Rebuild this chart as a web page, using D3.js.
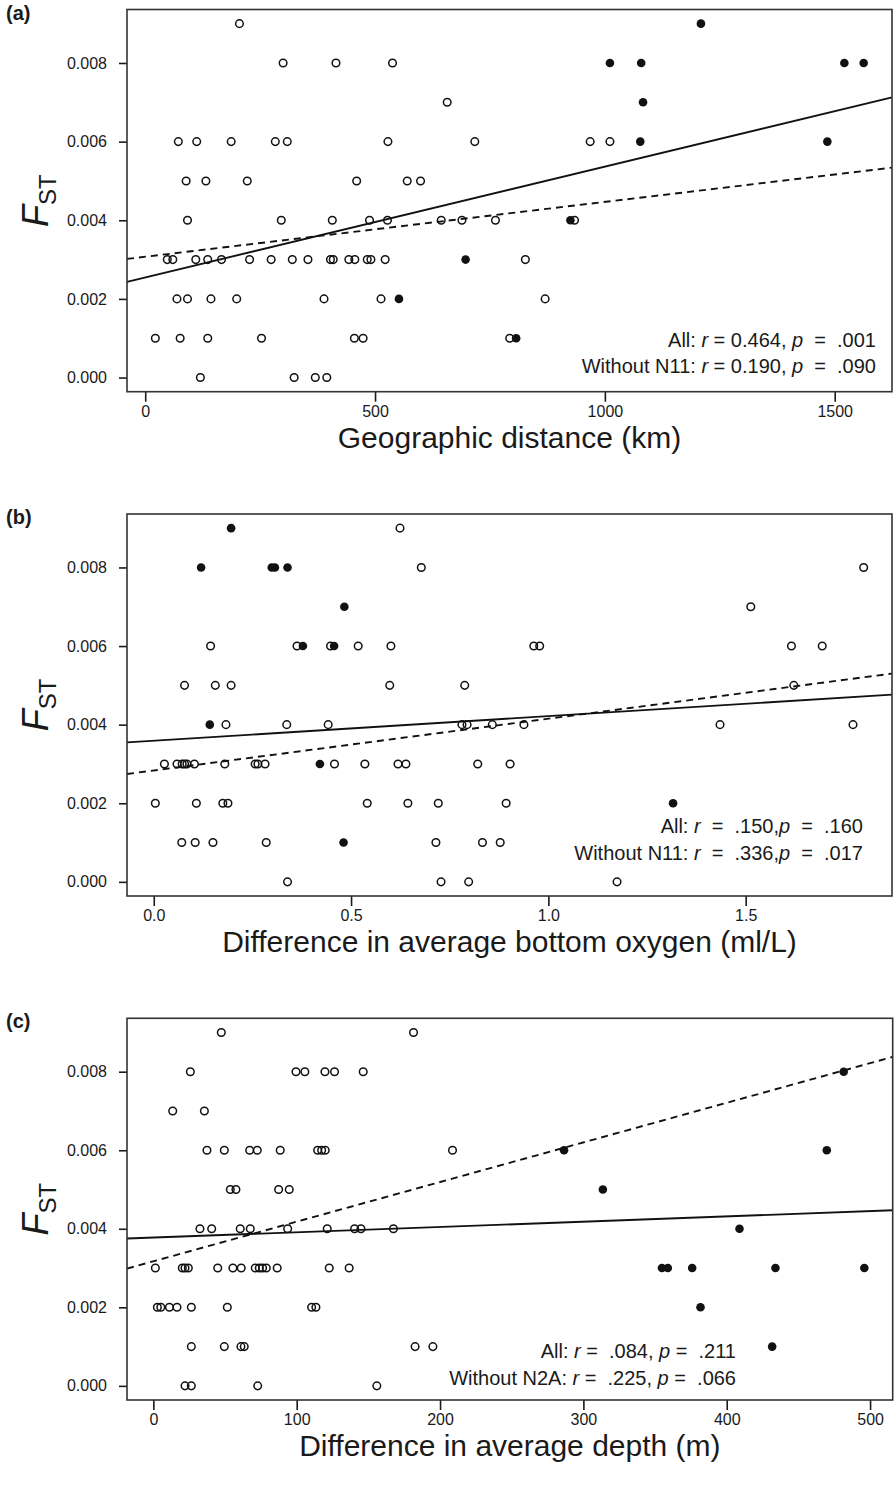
<!DOCTYPE html>
<html>
<head>
<meta charset="utf-8">
<script src="https://cdn.jsdelivr.net/npm/d3@7"></script>
<style>
body { margin: 0; background: #fff; }
svg text { font-family: "Liberation Sans", Arial, sans-serif; fill: #1a1a1a; white-space: pre; }
</style>
</head>
<body>
<svg id="chart" width="896" height="1485"></svg>
<script>
// ---- data ----
var fstTicks = [0, 0.002, 0.004, 0.006, 0.008];

// (a) geographic distance, km
var distTicks = [0, 500, 1000, 1500];
var distOpenKm = [205, 300, 415, 538, 657,
    72, 112, 187, 283, 309, 528, 717, 968, 1011,
    89, 132, 222, 460, 570, 599,
    92, 296, 407, 488, 527, 644, 689, 762, 934,
    48, 60, 110, 136, 166, 227, 274, 320, 354, 403, 409, 443, 456, 483, 491, 522, 827,
    69, 92, 143, 199, 389, 513, 870,
    22, 76, 136, 253, 455, 474, 793,
    120, 324, 370, 395];
var distOpenFst = [0.009, 0.008, 0.008, 0.008, 0.007,
    0.006, 0.006, 0.006, 0.006, 0.006, 0.006, 0.006, 0.006, 0.006,
    0.005, 0.005, 0.005, 0.005, 0.005, 0.005,
    0.004, 0.004, 0.004, 0.004, 0.004, 0.004, 0.004, 0.004, 0.004,
    0.003, 0.003, 0.003, 0.003, 0.003, 0.003, 0.003, 0.003, 0.003, 0.003, 0.003, 0.003, 0.003, 0.003, 0.003, 0.003, 0.003,
    0.002, 0.002, 0.002, 0.002, 0.002, 0.002, 0.002,
    0.001, 0.001, 0.001, 0.001, 0.001, 0.001, 0.001,
    0, 0, 0, 0];
var distFilledKm = [1209, 1011, 1079, 1521, 1563, 1083, 1077, 1484, 925, 697, 552, 807];
var distFilledFst = [0.009, 0.008, 0.008, 0.008, 0.008, 0.007, 0.006, 0.006, 0.004, 0.003, 0.002, 0.001];
var distLineAll = [0.002545, 2.82e-6];       // intercept, slope
var distLineWithout = [0.003072, 1.395e-6];

// (b) difference in bottom oxygen, ml/L
var oxyTicks = [0, 0.5, 1.0, 1.5];
var oxyOpenX = [0.624, 0.678, 1.799, 1.513,
    0.144, 0.363, 0.448, 0.518, 0.601, 0.963, 0.978, 1.616, 1.694,
    0.078, 0.156, 0.196, 0.598, 0.788, 1.622,
    0.183, 0.337, 0.442, 0.781, 0.794, 0.858, 0.938, 1.435, 1.772,
    0.027, 0.059, 0.072, 0.078, 0.084, 0.103, 0.180, 0.257, 0.264, 0.282, 0.458, 0.535, 0.619, 0.639, 0.821, 0.903,
    0.004, 0.108, 0.175, 0.188, 0.541, 0.644, 0.721, 0.893,
    0.071, 0.105, 0.150, 0.285, 0.715, 0.833, 0.878,
    0.339, 0.728, 0.798, 1.174];
var oxyOpenFst = [0.009, 0.008, 0.008, 0.007,
    0.006, 0.006, 0.006, 0.006, 0.006, 0.006, 0.006, 0.006, 0.006,
    0.005, 0.005, 0.005, 0.005, 0.005, 0.005,
    0.004, 0.004, 0.004, 0.004, 0.004, 0.004, 0.004, 0.004, 0.004,
    0.003, 0.003, 0.003, 0.003, 0.003, 0.003, 0.003, 0.003, 0.003, 0.003, 0.003, 0.003, 0.003, 0.003, 0.003, 0.003,
    0.002, 0.002, 0.002, 0.002, 0.002, 0.002, 0.002, 0.002,
    0.001, 0.001, 0.001, 0.001, 0.001, 0.001, 0.001,
    0, 0, 0, 0];
var oxyFilledX = [0.196, 0.120, 0.299, 0.307, 0.339, 0.483, 0.378, 0.457, 0.142, 0.421, 1.316, 0.481];
var oxyFilledFst = [0.009, 0.008, 0.008, 0.008, 0.008, 0.007, 0.006, 0.006, 0.004, 0.003, 0.002, 0.001];
var oxyLineAll = [0.003591, 0.000627];
var oxyLineWithout = [0.002834, 0.001318];

// (c) difference in depth, m
var depthTicks = [0, 100, 200, 300, 400, 500];
var depthOpenM = [47.4, 181.5,
    25.8, 99.5, 105.7, 119.7, 126.4, 146.4,
    13.5, 35.6,
    37.4, 49.5, 67.2, 72.5, 88.5, 114.6, 117.4, 119.9, 208.7,
    53.7, 57.6, 87.4, 94.8,
    32.5, 40.7, 60.6, 67.6, 93.7, 121.3, 140.4, 144.8, 167.5,
    1.4, 20.2, 22.1, 24.4, 44.9, 55.5, 61.3, 71.1, 73.9, 76.2, 78.8, 86.4, 122.7, 136.6,
    2.8, 5.2, 11.2, 16.5, 26.5, 51.6, 110.4, 113.4,
    26.5, 49.5, 61.1, 63.4, 182.6, 195,
    22.1, 26.5, 72.8, 155.9];
var depthOpenFst = [0.009, 0.009,
    0.008, 0.008, 0.008, 0.008, 0.008, 0.008,
    0.007, 0.007,
    0.006, 0.006, 0.006, 0.006, 0.006, 0.006, 0.006, 0.006, 0.006,
    0.005, 0.005, 0.005, 0.005,
    0.004, 0.004, 0.004, 0.004, 0.004, 0.004, 0.004, 0.004, 0.004,
    0.003, 0.003, 0.003, 0.003, 0.003, 0.003, 0.003, 0.003, 0.003, 0.003, 0.003, 0.003, 0.003, 0.003,
    0.002, 0.002, 0.002, 0.002, 0.002, 0.002, 0.002, 0.002,
    0.001, 0.001, 0.001, 0.001, 0.001, 0.001,
    0, 0, 0, 0];
var depthFilledM = [481.6, 286.5, 469.8, 313.6, 408.9, 354.8, 358.9, 375.9, 434, 496, 381.7, 431.7];
var depthFilledFst = [0.008, 0.006, 0.006, 0.005, 0.004, 0.003, 0.003, 0.003, 0.003, 0.003, 0.002, 0.001];
var depthLineAll = [0.003776, 1.349e-6];
var depthLineWithout = [0.003172, 1.0092e-5];

var svg = d3.select("#chart");

// R-style axis range: data range padded 4% each side
function padded(values) {
    var ext = d3.extent(values);
    var r = ext[1] - ext[0];
    return [ext[0] - 0.04 * r, ext[1] + 0.04 * r];
}

function styleAxis(a) {
    a.select(".domain").remove();
    a.selectAll("line").attr("stroke", "#1a1a1a").attr("stroke-width", 1.6);
    a.selectAll("text").attr("font-size", 16).attr("font-family", null).attr("fill", null);
}

function drawPanel(p) {
    var g = svg.append("g");
    var x = d3.scaleLinear()
        .domain(padded(p.openX.concat(p.filledX)))
        .range([p.left, p.right]);
    var y = d3.scaleLinear()
        .domain(padded(p.openY.concat(p.filledY).concat([0])))
        .range([p.bottom, p.top]);

    // axes
    g.append("g")
        .attr("transform", "translate(0," + p.bottom + ")")
        .call(d3.axisBottom(x).tickValues(p.xTicks).tickFormat(p.xFormat).tickSize(10).tickPadding(4))
        .call(styleAxis);
    g.append("g")
        .attr("transform", "translate(" + p.left + ",0)")
        .call(d3.axisLeft(y).tickValues(fstTicks).tickFormat(d3.format(".3f")).tickSize(8).tickPadding(12))
        .call(styleAxis);

    // regression lines
    var xd = x.domain();
    [[p.lineAll, null], [p.lineWithout, "7,5"]].forEach(function (L) {
        g.append("line")
            .attr("x1", x(xd[0])).attr("y1", y(L[0][0] + L[0][1] * xd[0]))
            .attr("x2", x(xd[1])).attr("y2", y(L[0][0] + L[0][1] * xd[1]))
            .attr("stroke", "#111")
            .attr("stroke-width", 1.9)
            .attr("stroke-dasharray", L[1]);
    });

    // points
    g.selectAll(".open")
        .data(d3.range(p.openX.length))
        .enter()
        .append("circle")
        .attr("class", "open")
        .attr("cx", function (i) { return x(p.openX[i]); })
        .attr("cy", function (i) { return y(p.openY[i]); })
        .attr("r", 3.8)
        .attr("fill", "none")
        .attr("stroke", "#111")
        .attr("stroke-width", 1.5);
    g.selectAll(".filled")
        .data(d3.range(p.filledX.length))
        .enter()
        .append("circle")
        .attr("class", "filled")
        .attr("cx", function (i) { return x(p.filledX[i]); })
        .attr("cy", function (i) { return y(p.filledY[i]); })
        .attr("r", 4.3)
        .attr("fill", "#111");

    // frame
    g.append("rect")
        .attr("x", p.left).attr("y", p.top)
        .attr("width", p.right - p.left).attr("height", p.bottom - p.top)
        .attr("fill", "none").attr("stroke", "#333").attr("stroke-width", 1.6);

    // labels
    g.append("text")
        .attr("x", 6).attr("y", p.top + 10)
        .attr("font-size", 20).attr("font-weight", "bold")
        .text(p.letter);
    g.append("text")
        .attr("x", (p.left + p.right) / 2).attr("y", p.bottom + 56)
        .attr("text-anchor", "middle").attr("font-size", 30)
        .text(p.xTitle);
    var yl = g.append("text")
        .attr("transform", "translate(48," + ((p.top + p.bottom) / 2) + ") rotate(-90)")
        .attr("text-anchor", "middle").attr("font-size", 36);
    yl.append("tspan").attr("font-style", "italic").text("F");
    yl.append("tspan").attr("font-size", 24).attr("dy", 8).text("ST");

    // stats annotation
    p.stats.forEach(function (line, k) {
        var t = g.append("text")
            .attr("x", p.statRight).attr("y", p.statTop + k * 26.7)
            .attr("text-anchor", "end").attr("font-size", 20);
        line.forEach(function (part) {
            t.append("tspan").attr("font-style", part[1] ? "italic" : null).text(part[0]);
        });
    });
}

drawPanel({
    letter: "(a)", left: 127, right: 892, top: 9.5, bottom: 391.7,
    openX: distOpenKm, openY: distOpenFst, filledX: distFilledKm, filledY: distFilledFst,
    xTicks: distTicks, xFormat: d3.format("d"),
    lineAll: distLineAll, lineWithout: distLineWithout,
    xTitle: "Geographic distance (km)",
    statRight: 876, statTop: 346.5,
    stats: [[["All: "], ["r", 1], [" = 0.464, "], ["p", 1], ["  =  .001"]],
            [["Without N11: "], ["r", 1], [" = 0.190, "], ["p", 1], ["  =  .090"]]]
});
drawPanel({
    letter: "(b)", left: 127, right: 892, top: 514, bottom: 896,
    openX: oxyOpenX, openY: oxyOpenFst, filledX: oxyFilledX, filledY: oxyFilledFst,
    xTicks: oxyTicks, xFormat: d3.format(".1f"),
    lineAll: oxyLineAll, lineWithout: oxyLineWithout,
    xTitle: "Difference in average bottom oxygen (ml/L)",
    statRight: 863, statTop: 833.3,
    stats: [[["All: "], ["r", 1], ["  =  .150,"], ["p", 1], ["  =  .160"]],
            [["Without N11: "], ["r", 1], ["  =  .336,"], ["p", 1], ["  =  .017"]]]
});
drawPanel({
    letter: "(c)", left: 127, right: 892.7, top: 1018.3, bottom: 1400,
    openX: depthOpenM, openY: depthOpenFst, filledX: depthFilledM, filledY: depthFilledFst,
    xTicks: depthTicks, xFormat: d3.format("d"),
    lineAll: depthLineAll, lineWithout: depthLineWithout,
    xTitle: "Difference in average depth (m)",
    statRight: 736, statTop: 1358.3,
    stats: [[["All: "], ["r", 1], [" =  .084, "], ["p", 1], [" =  .211"]],
            [["Without N2A: "], ["r", 1], [" =  .225, "], ["p", 1], [" =  .066"]]]
});
</script>
</body>
</html>
